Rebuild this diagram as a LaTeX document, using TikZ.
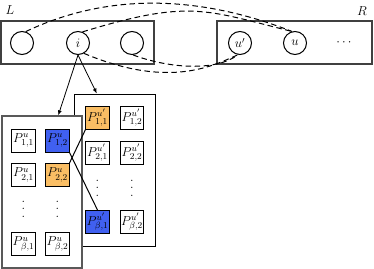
\RequirePackage{fix-cm}
\documentclass[tikz,border=0pt]{standalone}
\usepackage{amsmath}
\usetikzlibrary{arrows.meta,calc}
\definecolor{cellblue}{RGB}{64,96,240}
\definecolor{cellorange}{RGB}{250,190,100}
\newcommand{\tallvdots}{\vbox{\baselineskip7.5bp\lineskiplimit0pt\hbox{.}\hbox{.}\hbox{.}}}
\begin{document}
\begin{tikzpicture}[x=1bp,y=-1bp,
  bigbox/.style={draw=black!75, line width=1.1bp, inner sep=0pt, minimum height=43bp},
  vert/.style={draw, circle, minimum size=23bp, inner sep=0pt, line width=1bp, font=\fontsize{13}{15}\selectfont},
  panel/.style={fill=white, minimum width=80bp, minimum height=152bp, inner sep=0pt},
  cell/.style={draw, fill=white, minimum size=23bp, inner sep=0pt, line width=1bp, font=\fontsize{13}{15}\selectfont},
  match/.style={dash pattern=on 5.5bp off 3.5bp, line width=1bp},
  link/.style={line width=1bp},
  arr/.style={-{Latex[length=5bp,width=4bp]}, line width=0.8bp},
  lab/.style={inner sep=0pt, font=\fontsize{13}{15}\selectfont}]
\useasboundingbox (0,0) rectangle (374,269);
% top boxes
\node[bigbox, minimum width=153bp] (Lbox) at (77.5,42.5) {};
\node[bigbox, minimum width=155bp] (Rbox) at (294.5,42.5) {};
\node[lab] (Llab) at (10,10) {$L$};
\node[lab] (Rlab) at (362,11) {$R$};
\node[vert] (l1) at (22,43) {};
\node[vert] (li) at (78,43) {$i$};
\node[vert] (l3) at (132,43) {};
\node[vert] (ru2) at (240,43) {$u'$};
\node[vert] (ru) at (295,43) {$u$};
\node[lab] (rdots) at (345,43) {$\cdots$};
% matching curves
\draw[match] (l1.72) .. controls (130,-18) and (231,7.5) .. (ru.105);
\draw[match] (li.68) .. controls (190,-1) and (205,10) .. (ru.105);
\draw[match] (l3.-85) .. controls (168,68) and (215,72) .. (ru2.-100);
\draw[match] (li.-60) .. controls (171,90) and (215,64.5) .. (ru2.-100);
% back panel
\node[panel, draw=black, line width=1bp] (back) at (115,170) {};
\node[cell, fill=cellorange] (b11) at (97.5,117.5) {$P^{u'}_{1,1}$};
\node[cell] (b12) at (132,117.5) {$P^{u'}_{1,2}$};
\node[cell] (b21) at (97.5,152.5) {$P^{u'}_{2,1}$};
\node[cell] (b22) at (132,152.5) {$P^{u'}_{2,2}$};
\node[lab] (bd1) at (97.5,188) {\tallvdots};
\node[lab] (bd2) at (132,188) {\tallvdots};
\node[cell, fill=cellblue] (bb1) at (97.5,222) {$P^{u'}_{\beta,1}$};
\node[cell] (bb2) at (132,222) {$P^{u'}_{\beta,2}$};
% front panel
\node[panel, draw=black!65, line width=1.3bp] (front) at (42,192) {};
\node[cell] (f11) at (23.5,140.5) {$P^{u}_{1,1}$};
\node[cell, fill=cellblue] (f12) at (57.5,140.5) {$P^{u}_{1,2}$};
\node[cell] (f21) at (23.5,175) {$P^{u}_{2,1}$};
\node[cell, fill=cellorange] (f22) at (57.5,175) {$P^{u}_{2,2}$};
\node[lab] (fd1) at (23.5,209) {\tallvdots};
\node[lab] (fd2) at (57.5,209) {\tallvdots};
\node[cell] (fb1) at (23.5,244) {$P^{u}_{\beta,1}$};
\node[cell] (fb2) at (57.5,244) {$P^{u}_{\beta,2}$};
% links between cells
\draw[link] (f12.south east) -- (bb1.north);
\draw[link] (f22.north east) -- (b11.south west);
% arrows from i
\draw[arr] (li.south) -- ($(front.north west)!0.7!(front.north east)$);
\draw[arr] (li.south) -- ($(back.north west)!0.275!(back.north east)$);
\end{tikzpicture}
\end{document}
